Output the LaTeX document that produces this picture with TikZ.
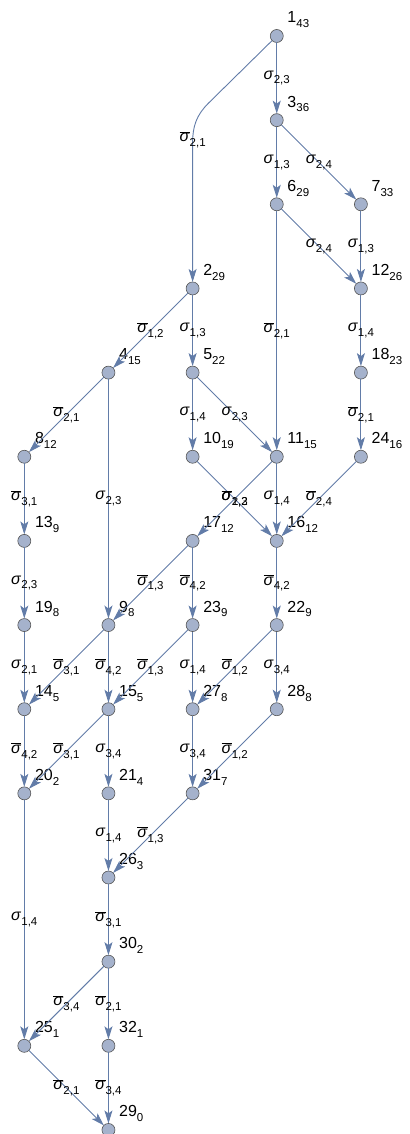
\documentclass[tikz,border=0pt]{standalone}
\usepackage{fontspec}
\setmainfont{Liberation Sans}
\usetikzlibrary{arrows.meta}
\definecolor{edgecol}{RGB}{98,124,168}
\definecolor{vfill}{RGB}{165,178,204}
\definecolor{vdraw}{RGB}{85,85,85}
\newcommand\sbs[1]{\raisebox{-0.3em}{\fontsize{11.5}{11.5}\selectfont #1}}
\newcommand\sg[1]{\textit{σ}\sbs{#1}}
\newcommand\osg[1]{$\overline{\mbox{\textit{σ}}}$\sbs{#1}}
\newcommand\vtx[4]{\node[vtx] (n#1) at (#2,#3) {}; \node[nlab] at ([shift={(10.5pt,13pt)}]n#1.center) {#1\sbs{#4}};}
\tikzset{
 vtx/.style={circle,minimum size=13pt,inner sep=0pt,outer sep=0pt,fill=vfill,draw=vdraw,line width=0.6pt},
 nlab/.style={anchor=base west,inner sep=0pt,font=\fontsize{16}{16}\selectfont},
 elab/.style={inner sep=0pt,font=\fontsize{16}{16}\selectfont,text=black},
 edge/.style={draw=edgecol,line width=0.9pt,-{Stealth[length=13pt,width=8pt,inset=3pt]}}
}
\begin{document}
\begin{tikzpicture}[x=84.15pt,y=-84.15pt]
\useasboundingbox (-0.2888,-0.4278) rectangle (4.5716,13.048);
\vtx{1}{3}{0}{43}
\vtx{3}{3}{1}{36}
\vtx{6}{3}{2}{29}
\vtx{7}{4}{2}{33}
\vtx{2}{2}{3}{29}
\vtx{12}{4}{3}{26}
\vtx{4}{1}{4}{15}
\vtx{5}{2}{4}{22}
\vtx{18}{4}{4}{23}
\vtx{8}{0}{5}{12}
\vtx{10}{2}{5}{19}
\vtx{11}{3}{5}{15}
\vtx{24}{4}{5}{16}
\vtx{13}{0}{6}{9}
\vtx{17}{2}{6}{12}
\vtx{16}{3}{6}{12}
\vtx{19}{0}{7}{8}
\vtx{9}{1}{7}{8}
\vtx{23}{2}{7}{9}
\vtx{22}{3}{7}{9}
\vtx{14}{0}{8}{5}
\vtx{15}{1}{8}{5}
\vtx{27}{2}{8}{8}
\vtx{28}{3}{8}{8}
\vtx{20}{0}{9}{2}
\vtx{21}{1}{9}{4}
\vtx{31}{2}{9}{7}
\vtx{26}{1}{10}{3}
\vtx{30}{1}{11}{2}
\vtx{25}{0}{12}{1}
\vtx{32}{1}{12}{1}
\vtx{29}{1}{13}{0}
% curved edge 1 -> 2
\coordinate (c1) at (2.1866,0.7998);
\coordinate (c2) at (2,1.27);
\coordinate (c3) at (2,1.23);
\draw[edge] (n1) -- (c1) to[out=-135,in=90] (c2) -- (n2);
\node[elab] at (c3) {\osg{2,1}};
\draw[edge] (n1) -- node[elab]{\sg{2,3}} (n3);
\draw[edge] (n3) -- node[elab]{\sg{1,3}} (n6);
\draw[edge] (n3) -- node[elab]{\sg{2,4}} (n7);
\draw[edge] (n6) -- node[elab]{\sg{2,4}} (n12);
\draw[edge] (n7) -- node[elab]{\sg{1,3}} (n12);
\draw[edge] (n6) -- node[elab]{\osg{2,1}} (n11);
\draw[edge] (n12) -- node[elab]{\sg{1,4}} (n18);
\draw[edge] (n2) -- node[elab]{\osg{1,2}} (n4);
\draw[edge] (n2) -- node[elab]{\sg{1,3}} (n5);
\draw[edge] (n4) -- node[elab]{\osg{2,1}} (n8);
\draw[edge] (n4) -- node[elab]{\sg{2,3}} (n9);
\draw[edge] (n5) -- node[elab]{\sg{1,4}} (n10);
\draw[edge] (n5) -- node[elab]{\sg{2,3}} (n11);
\draw[edge] (n18) -- node[elab]{\osg{2,1}} (n24);
\draw[edge] (n8) -- node[elab]{\osg{3,1}} (n13);
\draw[edge] (n10) -- node[elab]{\osg{2,3}} (n16);
\draw[edge] (n11) -- node[elab]{\osg{1,2}} (n17);
\draw[edge] (n11) -- node[elab]{\sg{1,4}} (n16);
\draw[edge] (n24) -- node[elab]{\osg{2,4}} (n16);
\draw[edge] (n13) -- node[elab]{\sg{2,3}} (n19);
\draw[edge] (n17) -- node[elab]{\osg{1,3}} (n9);
\draw[edge] (n17) -- node[elab]{\osg{4,2}} (n23);
\draw[edge] (n16) -- node[elab]{\osg{4,2}} (n22);
\draw[edge] (n19) -- node[elab]{\sg{2,1}} (n14);
\draw[edge] (n9) -- node[elab]{\osg{3,1}} (n14);
\draw[edge] (n9) -- node[elab]{\osg{4,2}} (n15);
\draw[edge] (n23) -- node[elab]{\osg{1,3}} (n15);
\draw[edge] (n23) -- node[elab]{\sg{1,4}} (n27);
\draw[edge] (n22) -- node[elab]{\osg{1,2}} (n27);
\draw[edge] (n22) -- node[elab]{\sg{3,4}} (n28);
\draw[edge] (n14) -- node[elab]{\osg{4,2}} (n20);
\draw[edge] (n15) -- node[elab]{\osg{3,1}} (n20);
\draw[edge] (n15) -- node[elab]{\sg{3,4}} (n21);
\draw[edge] (n27) -- node[elab]{\sg{3,4}} (n31);
\draw[edge] (n28) -- node[elab]{\osg{1,2}} (n31);
\draw[edge] (n21) -- node[elab]{\sg{1,4}} (n26);
\draw[edge] (n31) -- node[elab]{\osg{1,3}} (n26);
\draw[edge] (n26) -- node[elab]{\osg{3,1}} (n30);
\draw[edge] (n20) -- node[elab]{\sg{1,4}} (n25);
\draw[edge] (n30) -- node[elab]{\osg{3,4}} (n25);
\draw[edge] (n30) -- node[elab]{\osg{2,1}} (n32);
\draw[edge] (n25) -- node[elab]{\osg{2,1}} (n29);
\draw[edge] (n32) -- node[elab]{\osg{3,4}} (n29);
\end{tikzpicture}
\end{document}
